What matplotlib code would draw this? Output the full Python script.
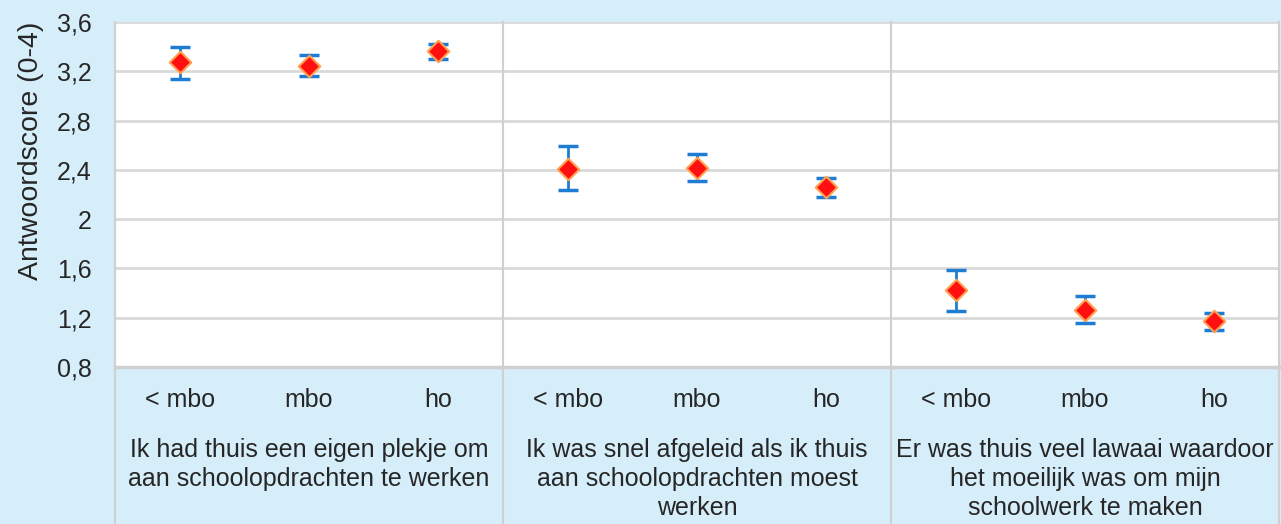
import matplotlib
matplotlib.use("Agg")
import matplotlib.pyplot as plt
import matplotlib.transforms as mtransforms

plt.rcParams['font.family'] = ['Liberation Sans', 'DejaVu Sans']

subcats = ["< mbo", "mbo", "ho"]
groups = ["Ik had thuis een eigen plekje om\naan schoolopdrachten te werken",
          "Ik was snel afgeleid als ik thuis\naan schoolopdrachten moest\nwerken",
          "Er was thuis veel lawaai waardoor\nhet moeilijk was om mijn\nschoolwerk te maken"]
means = [3.275, 3.243, 3.365, 2.407, 2.415, 2.26, 1.425, 1.262, 1.173]
upper = [3.397, 3.332, 3.42, 2.594, 2.529, 2.334, 1.587, 1.376, 1.238]
lower = [3.137, 3.162, 3.30, 2.236, 2.309, 2.18, 1.254, 1.157, 1.10]
yticks = [0.8, 1.2, 1.6, 2.0, 2.4, 2.8, 3.2, 3.6]
ytick_labels = ["0,8", "1,2", "1,6", "2", "2,4", "2,8", "3,2", "3,6"]

bg = "#D6EEFA"
W, H = 1281, 524
fig = plt.figure(figsize=(W/100, H/100), dpi=100, facecolor=bg)
x0, x1, ytop, ybot = 115, 1279, 22, 367
ax = fig.add_axes([x0/W, (H-ybot)/H, (x1-x0)/W, (ybot-ytop)/H])
ax.set_facecolor("white")

xs = list(range(len(means)))
yerr = [[m - l for m, l in zip(means, lower)], [u - m for u, m in zip(upper, means)]]
ax.errorbar(xs, means, yerr=yerr, fmt='none', ecolor="#1E7DD2", elinewidth=2,
            capsize=7, capthick=2.5, zorder=3)
ax.scatter(xs, means, marker='D', s=120, facecolor="#FF1010", edgecolor="#FFA050",
           linewidth=1.5, zorder=4)

ax.set_xlim(-0.5, 8.5)
ax.set_ylim(0.8, 3.6)
ax.set_yticks(yticks)
ax.set_yticklabels(ytick_labels, fontsize=18, color="#262626")
ax.tick_params(axis='y', length=0, pad=17)
ax.set_xticks([])
ax.grid(axis='y', color="#D9D9D9", linewidth=2)
ax.set_axisbelow(True)
for s in ax.spines.values():
    s.set_visible(False)
fig.text(31/W, 1 - 151/H, "Antwoordscore (0-4)", rotation=90, ha='center', va='center',
         fontsize=20.5, color="#262626")

# separators
trans = mtransforms.blended_transform_factory(ax.transData, ax.transAxes)
for xv in [-0.5, 2.5, 5.5, 8.5]:
    ax.plot([xv, xv], [1, -157/345], transform=trans, color="#D0D0D0",
            linewidth=1.5, clip_on=False, zorder=1)
ax.plot([-0.5, 8.5], [0, 0], transform=trans, color="#D0D0D0", linewidth=2.5,
        clip_on=False)

for i in xs:
    ax.text(i, -33/345, subcats[i % 3], transform=trans, ha='center', va='center',
            fontsize=18, color="#262626")
for g, lab in enumerate(groups):
    ax.text(3*g + 1, -71/345, lab, transform=trans, ha='center', va='top',
            fontsize=18, color="#262626", linespacing=1.27)

fig.savefig("out.png", dpi=100, facecolor=bg)
